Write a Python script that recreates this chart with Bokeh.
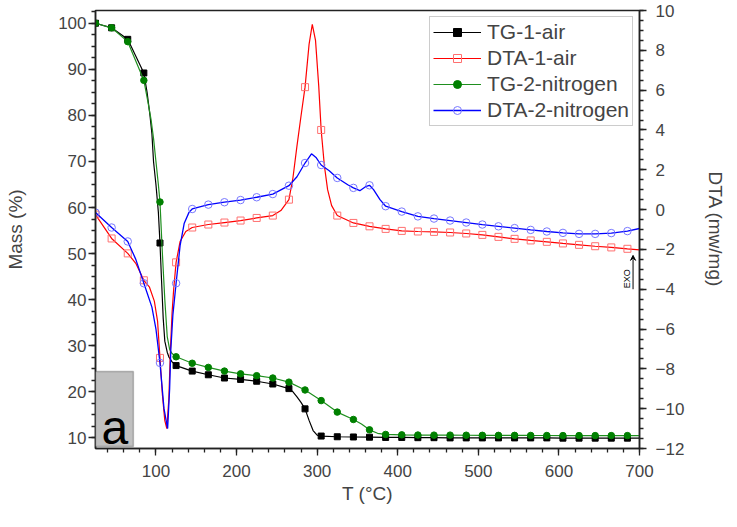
import math
from bokeh.plotting import figure
from bokeh.models import (Range1d, LinearAxis, SingleIntervalTicker, Legend, LegendItem,
                          BoxAnnotation, Label, Arrow, VeeHead)
from bokeh.embed import file_html
from bokeh.resources import INLINE

FONT = "Liberation Sans"

# marker temperatures (every 20 degC)
MARK_T = set(range(25, 700, 20))

# ---- TG-1-air (Mass %) ----
tg1_t = [25, 45, 65, 85, 89, 92.6, 95, 97, 100, 103, 105, 107, 109, 111, 114, 116, 120, 125,
         145, 165, 185, 205, 225, 245, 265, 270, 275, 280, 285, 290, 295, 300, 305,
         325, 345, 365, 385, 405, 425, 445, 465, 485, 505, 525, 545, 565, 585, 605, 625, 645, 665, 685, 700]
tg1_m = [100, 99.0, 96.5, 89.2, 85, 80, 76, 70, 65, 59, 52.3, 44, 36, 31, 28.6, 27.6, 26.5, 25.7,
         24.5, 23.7, 23.0, 22.7, 22.3, 21.7, 20.7, 20.0, 18.9, 17.7, 16.3, 13.8, 11.6, 10.6, 10.4,
         10.25, 10.2, 10.15, 10.1, 10.1, 10.05, 10.05, 10.0, 10.0, 10.0, 10.0, 10.0, 10.0, 10.0, 9.95, 9.95, 9.95, 9.95, 9.95, 9.95]

# ---- TG-2-nitrogen (Mass %) ----
tg2_t = [25, 45, 65, 85, 90, 94, 97, 100, 103, 105, 108, 111, 114, 117, 120, 125,
         145, 165, 185, 205, 225, 245, 265, 285, 305, 325, 345, 355, 365, 375, 385,
         405, 425, 445, 465, 485, 505, 525, 545, 565, 585, 605, 625, 645, 665, 685, 700]
tg2_m = [100, 99.0, 96.0, 87.6, 83, 79, 75, 70, 65, 61.2, 50, 40, 32, 29.2, 28.3, 27.6,
         26.2, 25.3, 24.5, 23.9, 23.5, 23.0, 22.1, 20.4, 18.1, 15.6, 14.0, 13.0, 11.75, 11.0, 10.75,
         10.66, 10.62, 10.6, 10.6, 10.58, 10.56, 10.55, 10.55, 10.53, 10.52, 10.5, 10.5, 10.5, 10.5, 10.5, 10.5]

# ---- DTA-1-air (mW/mg) ----
dta1_t = [25, 45, 65, 75, 85, 92, 98, 102, 105, 108, 111, 113.5, 116, 118, 120, 122, 125, 130, 137,
          145, 165, 185, 205, 225, 245, 255, 265, 270, 275, 280, 285, 290, 294, 298, 302, 305, 309, 313, 318,
          325, 345, 365, 385, 405, 425, 445, 465, 485, 505, 525, 545, 565, 585, 605, 625, 645, 665, 685, 700]
dta1_v = [-0.25, -1.45, -2.2, -2.7, -3.55, -3.9, -4.6, -5.6, -7.45, -9.3, -10.6, -11.0, -9.5, -7.0, -5.2, -4.0, -2.65, -1.6, -1.1,
          -0.9, -0.75, -0.65, -0.55, -0.42, -0.3, -0.05, 0.5, 1.6, 3.2, 4.7, 6.15, 8.3, 9.3, 8.5, 6.2, 4.0, 2.2, 1.0, 0.2,
          -0.3, -0.67, -0.84, -0.97, -1.07, -1.1, -1.12, -1.15, -1.2, -1.27, -1.37, -1.47, -1.55, -1.62, -1.7, -1.77, -1.84, -1.9, -1.97, -2.02]

# ---- DTA-2-nitrogen (mW/mg) ----
dta2_t = [25, 45, 65, 75, 85, 95, 100, 105, 110, 114.5, 117, 118.5, 121, 125, 130, 135, 141,
          145, 165, 185, 205, 225, 245, 265, 275, 285, 293, 299, 305, 315, 325, 338, 345, 353, 360, 365, 370, 378, 385,
          405, 425, 445, 465, 485, 505, 525, 545, 565, 585, 605, 625, 645, 665, 685, 700]
dta2_v = [-0.15, -0.9, -1.6, -2.5, -3.7, -4.9, -6.0, -7.7, -10.0, -11.0, -9.0, -7.0, -5.3, -3.7, -1.8, -0.7, -0.14,
          0.03, 0.25, 0.37, 0.48, 0.62, 0.78, 1.2, 1.65, 2.34, 2.8, 2.6, 2.24, 1.95, 1.59, 1.25, 1.09, 0.95, 1.15, 1.22, 1.0, 0.5, 0.17,
          -0.1, -0.34, -0.45, -0.55, -0.65, -0.75, -0.84, -0.93, -1.02, -1.1, -1.17, -1.22, -1.22, -1.18, -1.08, -0.95]

x_label = "T (°C)"
y_label = "Mass (%)"
y2_label = "DTA (mw/mg)"
names = ["TG-1-air", "DTA-1-air", "TG-2-nitrogen", "DTA-2-nitrogen"]

p = figure(width=729, height=511, x_range=Range1d(25, 700), y_range=Range1d(7.7, 102.76),
           output_backend="svg", toolbar_location=None,
           min_border_left=95, min_border_right=88, min_border_top=10, min_border_bottom=63)
p.extra_y_ranges = {"dta": Range1d(-12, 10)}
p.xgrid.visible = False
p.ygrid.visible = False
p.outline_line_color = "#222222"
p.outline_line_width = 1.5
p.background_fill_color = "white"
p.border_fill_color = "white"


def style_axis(ax, interval, minors, label, standoff, lab_standoff):
    ax.ticker = SingleIntervalTicker(interval=interval, num_minor_ticks=minors)
    ax.axis_label = label
    ax.axis_label_text_font = FONT
    ax.axis_label_text_font_size = "19px"
    ax.axis_label_text_font_style = "normal"
    ax.axis_label_standoff = standoff
    ax.major_label_text_font = FONT
    ax.major_label_text_font_size = "17px"
    ax.major_label_standoff = lab_standoff
    ax.axis_line_color = "#222222"
    ax.axis_line_width = 1.5
    ax.major_tick_line_color = "#222222"
    ax.minor_tick_line_color = "#222222"
    ax.major_tick_line_width = 1.3
    ax.minor_tick_line_width = 1.3
    ax.major_tick_out = 7
    ax.major_tick_in = 0
    ax.minor_tick_out = 4
    ax.minor_tick_in = 0


style_axis(p.xaxis[0], 100, 5, x_label, 3, 9)
style_axis(p.yaxis[0], 10, 4, y_label, 29, 2)
p.yaxis[0].major_label_orientation = "horizontal"
ax2 = LinearAxis(y_range_name="dta")
style_axis(ax2, 2, 4, y2_label, 18, 9)
p.add_layout(ax2, "right")


def marks(t, v):
    idx = [i for i, tt in enumerate(t) if tt in MARK_T]
    return [t[i] for i in idx], [v[i] for i in idx]


# TG-1-air
l1 = p.line(tg1_t, tg1_m, line_color="black", line_width=1.2)
mt, mv = marks(tg1_t, tg1_m)
s1 = p.scatter(mt, mv, marker="square", size=6, fill_color="black", line_color="black")

# DTA-1-air
l2 = p.line(dta1_t, dta1_v, line_color="#ff0000", line_width=1.2, y_range_name="dta")
mt, mv = marks(dta1_t, dta1_v)
s2 = p.scatter(mt, mv, marker="square", size=7, fill_color=None, line_color="#ff7070",
               line_width=1, y_range_name="dta")

# TG-2-nitrogen
l3 = p.line(tg2_t, tg2_m, line_color="#1f8f1f", line_width=1.2)
mt, mv = marks(tg2_t, tg2_m)
s3 = p.scatter(mt, mv, marker="circle", size=6.5, fill_color="#008000", line_color="#008000")

# DTA-2-nitrogen
l4 = p.line(dta2_t, dta2_v, line_color="#0000ff", line_width=1.3, y_range_name="dta")
mt, mv = marks(dta2_t, dta2_v)
s4 = p.scatter(mt, mv, marker="circle", size=7.5, fill_color=None, line_color="#7878ff",
               line_width=1, y_range_name="dta")

legend = Legend(items=[LegendItem(label=names[0], renderers=[l1, s1]),
                       LegendItem(label=names[1], renderers=[l2, s2]),
                       LegendItem(label=names[2], renderers=[l3, s3]),
                       LegendItem(label=names[3], renderers=[l4, s4])],
                location="top_right")
legend.margin = 6
legend.padding = 3
legend.spacing = 2
legend.glyph_width = 48
legend.glyph_height = 20
legend.label_height = 20
legend.label_standoff = 6
legend.label_text_font = FONT
legend.label_text_font_size = "21px"
legend.border_line_color = "#999999"
legend.border_line_width = 1
legend.background_fill_color = "white"
legend.background_fill_alpha = 1
p.add_layout(legend)

# panel label box "a"
box = BoxAnnotation(left=25, right=72, bottom=8.14, top=24.42, fill_color="#c0c0c0", fill_alpha=1,
                    line_color="#333333", line_width=1.5)
p.add_layout(box)
p.add_layout(Label(x=48.9, y=12.3, text="a", text_font=FONT, text_font_size="48px",
                   text_align="center", text_baseline="alphabetic", text_color="black"))

# EXO marker
p.add_layout(Arrow(x_start=692, y_start=-4.0, x_end=692, y_end=-2.3, y_range_name="dta",
                   line_color="black", line_width=1,
                   end=VeeHead(size=5, line_color="black", fill_color="black", line_width=1)))
p.add_layout(Label(x=691, y=-3.95, y_range_name="dta", text="EXO", angle=math.pi / 2,
                   text_font=FONT, text_font_size="9px", text_align="left",
                   text_baseline="bottom", text_color="black"))

open("out.html", "w").write(file_html(p, INLINE))
